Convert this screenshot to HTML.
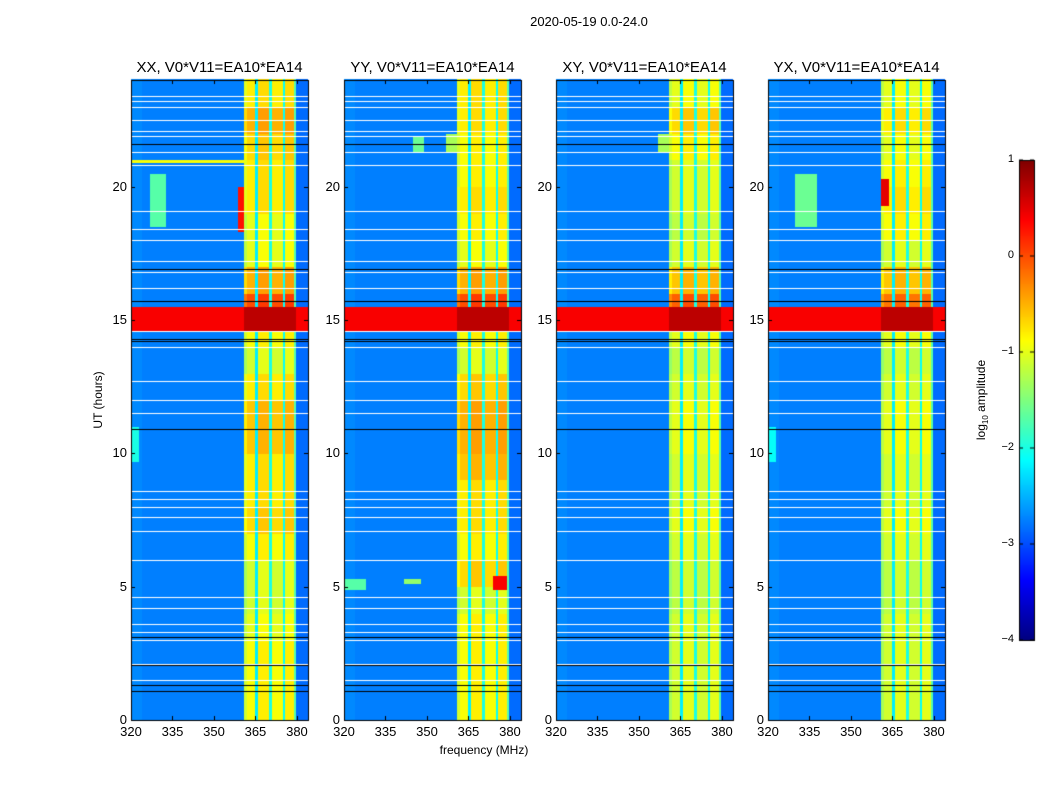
<!DOCTYPE html>
<html><head><meta charset="utf-8"><style>
body{margin:0;background:#fff;width:1050px;height:800px;overflow:hidden;position:relative;font-family:"Liberation Sans",sans-serif;}
canvas{position:absolute;left:0;top:0}
.t{position:absolute;white-space:nowrap;color:#000}
</style></head><body>
<canvas id="c" width="1050" height="800"></canvas>
<div id="txt"></div>
<script>
// ---- data ----
const panelTitles = ["XX, V0*V11=EA10*EA14","YY, V0*V11=EA10*EA14","XY, V0*V11=EA10*EA14","YX, V0*V11=EA10*EA14"];
const xTicks = [320,335,350,365,380];
const yTicks = [0,5,10,15,20];
const cbTicks = [1,0,-1,-2,-3,-4];
// baseline log amplitude per 1-MHz channel, 320..383 MHz
const spectrum = [-2.7,-2.7,-2.7,-2.7,-2.75,-2.75,-2.75,-2.75,-2.75,-2.75,-2.75,-2.75,-2.75,-2.75,-2.75,-2.75,-2.75,-2.75,-2.75,-2.75,
 -2.75,-2.75,-2.75,-2.75,-2.75,-2.75,-2.75,-2.75,-2.75,-2.75,-2.75,-2.75,-2.75,-2.75,-2.75,-2.75,-2.75,-2.75,-2.75,-2.75,-2.75,
 -1.1,-0.9,-0.9,-0.9,-2.2,-0.8,-0.8,-0.8,-0.8,-2.0,-0.9,-0.9,-0.9,-0.9,-2.1,-0.8,-0.8,-0.8,-1.7,-2.85,-2.85,-2.85,-2.85];
// per-hour band offsets, per polarisation
const bandXX = [0,0,0,-0.1,-0.2,-0.2,0,0.2,0.1,0.1,0.3,0.3,0.1,-0.2,0,0.9,0.4,-0.1,-0.1,0.1,0.1,0.2,0.4,0.1];
const bandYY = [0,0,0,0,-0.2,0.2,0,0.1,0.1,0.3,0.4,0.4,0.2,-0.2,0,0.9,0.4,-0.1,0,0.1,0,0,0.1,0.1];
const bandXY = [-0.2,-0.2,-0.2,-0.2,-0.3,-0.3,-0.2,-0.1,-0.2,-0.2,-0.1,-0.1,-0.2,-0.3,-0.1,0.8,0.3,-0.2,-0.3,-0.2,-0.2,0,0.2,-0.1];
const bandYX = [-0.2,-0.2,-0.2,-0.2,-0.3,-0.3,-0.2,-0.1,-0.2,-0.2,-0.1,-0.1,-0.2,-0.3,-0.1,0.7,0.3,-0.2,0,0.1,0,-0.1,0.1,-0.1];
const bandOffsets = [bandXX,bandYY,bandXY,bandYX];
// events: panel, t0, t1, f0, f1, value
const events = [[0,18.5,20.5,327,333,-1.7],[0,18.3,20.0,359,361,0.3],[0,9.7,11,320,323,-2.0],[0,20.9,21.0,320,361,-0.9],
 [1,4.9,5.3,320,328,-1.7],[1,5.1,5.3,342,348,-1.4],[1,21.3,21.9,345,349,-1.6],[1,21.3,22.0,357,361,-1.3],[1,4.9,5.4,374,379,0.4],
 [2,21.3,22.0,357,361,-1.3],
 [3,18.5,20.5,330,338,-1.6],[3,19.3,20.3,361,364,0.5],[3,9.7,11,320,323,-2.1]];
const flaggedHours = [23.4,23.2,23.0,22.5,22.1,21.9,21.3,20.8,19.1,18.4,18.0,17.2,16.8,16.2,14.6,14.0,12.7,12.0,11.5,8.6,8.3,8.0,7.6,7.1,6.0,4.6,4.2,3.6,3.3,3.0,2.1,1.5];
const blackHours = [21.6,16.9,15.7,14.3,14.2,10.9,3.1,2.05,1.3,1.1];
const hotBand = [14.6,15.5];

// ---- layout ----
const panelX = [131,344,556,768], PW=177, PT=80, PB=720;
const F0=320,F1=384,T0=0,T1=24;
const cv=document.getElementById('c'),ctx=cv.getContext('2d');
function jet(v){let t=(v+4)/5;t=Math.max(0,Math.min(1,t));
 const r=Math.max(0,Math.min(1,1.5-Math.abs(4*t-3))),g=Math.max(0,Math.min(1,1.5-Math.abs(4*t-2))),b=Math.max(0,Math.min(1,1.5-Math.abs(4*t-1)));
 return `rgb(${r*255|0},${g*255|0},${b*255|0})`;}
function xs(p,f){return panelX[p]+(f-F0)/(F1-F0)*PW;}
function ys(t){return PB-(t-T0)/(T1-T0)*(PB-PT);}
const dt=0.1;
for(let p=0;p<4;p++){
 for(let r=0;r<240;r++){
  const t=r*dt,h=Math.floor(t);
  for(let c=0;c<spectrum.length;c++){
   const f=F0+c;let v=spectrum[c];
   const inBand=f>=361&&f<380;
   if(inBand&&v>-1.3)v+=bandOffsets[p][h];
   if(t>=hotBand[0]&&t<hotBand[1])v=inBand?Math.max(v,0.7):0.4;
   for(const e of events)if(e[0]===p&&t>=e[1]&&t<e[2]&&f>=e[3]&&f<e[4])v=e[5];
   ctx.fillStyle=jet(v);
   const x0=xs(p,f),x1=xs(p,f+1),y0=ys(t+dt),y1=ys(t);
   ctx.fillRect(Math.floor(x0),Math.floor(y0),Math.ceil(x1)-Math.floor(x0),Math.ceil(y1)-Math.floor(y0));
  }
 }
 for(const fh of flaggedHours){ctx.fillStyle='#fff';ctx.fillRect(panelX[p],Math.round(ys(fh)),PW,1);}
 for(const bh of blackHours){ctx.fillStyle='#000';ctx.fillRect(panelX[p],Math.round(ys(bh)),PW,1);}
 ctx.strokeStyle='#000';ctx.lineWidth=1;ctx.strokeRect(panelX[p]+0.5,PT+0.5,PW,PB-PT);
 for(const xt of xTicks){const x=Math.round(xs(p,xt))+0.5;ctx.beginPath();ctx.moveTo(x,PB);ctx.lineTo(x,PB-4);ctx.moveTo(x,PT);ctx.lineTo(x,PT+4);ctx.stroke();}
 for(const yt of yTicks){const y=Math.round(ys(yt))+0.5;ctx.beginPath();ctx.moveTo(panelX[p],y);ctx.lineTo(panelX[p]+4,y);ctx.moveTo(panelX[p]+PW,y);ctx.lineTo(panelX[p]+PW-4,y);ctx.stroke();}
}
// colorbar
const CX=1019,CW=15,CT=160,CB=640;
for(let y=CT;y<CB;y++){ctx.fillStyle=jet(1-(y-CT)/(CB-CT)*5);ctx.fillRect(CX,y,CW,1);}
ctx.strokeStyle='#000';ctx.strokeRect(CX+0.5,CT+0.5,CW,CB-CT);
const txt=document.getElementById('txt');
function T(s,x,y,size,name,align,extra){const d=document.createElement('div');d.className='t';d.innerHTML=s;d.style.fontSize=size+'px';d.style.top=y+'px';
 
 
 if(align==='c'){d.style.left=x+'px';d.style.transform='translateX(-50%)';}else if(align==='r'){d.style.right=(1050-x)+'px';}else d.style.left=x+'px';
 if(extra)d.style.cssText+=extra;txt.appendChild(d);}
for(const v of cbTicks){const y=CT+(1-v)/5*(CB-CT);ctx.beginPath();ctx.moveTo(CX,y);ctx.lineTo(CX+4,y);ctx.moveTo(CX+CW,y);ctx.lineTo(CX+CW-4,y);ctx.stroke();
 T(v<0?'\u2212'+(-v):''+v,1014,y-7,11,'colorbar-tick','r');}
T('2020-05-19 0.0-24.0',589,14,13,'suptitle','c');
for(let p=0;p<4;p++){T(panelTitles[p],panelX[p]+PW/2,59,15,'panel-title','c');
 for(const xt of xTicks)T(''+xt,xs(p,xt),724,13,'x-tick-label','c');
 for(const yt of yTicks)T(''+yt,panelX[p]-4,ys(yt)-8,13,'y-tick-label','r');}
T('frequency (MHz)',484,743,12,'x-axis-title','c');
T('UT (hours)',90,400,12,'y-axis-title','l','transform:translate(-50%,-50%) rotate(-90deg);left:98px;');
T('log<sub style="font-size:8px">10</sub> amplitude',975,400,12,'colorbar-label','l','transform:translate(-50%,-50%) rotate(-90deg);left:982px;');
</script>
</body></html>
